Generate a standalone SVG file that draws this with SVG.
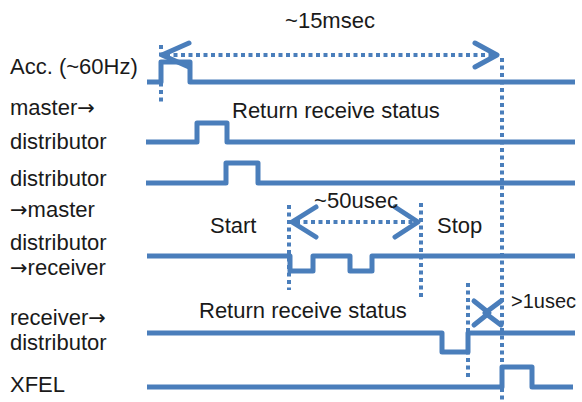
<svg xmlns="http://www.w3.org/2000/svg" width="582" height="402" viewBox="0 0 582 402">
<style>
text{font-family:"Liberation Sans",Arial,sans-serif;font-size:22px;fill:#1a1a1a}
.ar{font-family:"DejaVu Sans",sans-serif;font-size:21px}
.w{fill:none;stroke:#4a7ebb;stroke-width:5;stroke-linejoin:round}
.d{fill:none;stroke:#4a7ebb;stroke-width:4;stroke-dasharray:4 3.5}
.h{fill:none;stroke:#4a7ebb;stroke-width:5;stroke-linecap:round;stroke-linejoin:round}
</style>
<rect width="582" height="402" fill="#ffffff"/>
<g id="acc">
<text x="10" y="74">Acc. (~60Hz)</text>
<path class="w" d="M147,82 H161 V62 H190 V82 H575"/>
</g>
<g id="master-distributor">
<text x="10" y="115">master<tspan class="ar">→</tspan></text>
<text x="10" y="149">distributor</text>
<path class="w" d="M146,142 H197 V123 H227 V142 H575"/>
</g>
<g id="distributor-master">
<text x="10" y="186">distributor</text>
<text x="10" y="217"><tspan class="ar">→</tspan>master</text>
<path class="w" d="M146,183 H226 V163 H258 V183 H575"/>
</g>
<g id="distributor-receiver">
<text x="10" y="250">distributor</text>
<text x="10" y="275"><tspan class="ar">→</tspan>receiver</text>
<path class="w" d="M147,256 H290 V271 H313 V256 H350 V271 H372 V256 H575"/>
</g>
<g id="receiver-distributor">
<text x="10" y="325">receiver<tspan class="ar">→</tspan></text>
<text x="10" y="350">distributor</text>
<path class="w" d="M147,333 H442 V352 H468 V333 H575"/>
</g>
<g id="xfel">
<text x="10" y="392">XFEL</text>
<path class="w" d="M147,387 H502 V367 H532 V387 H573"/>
</g>
<g id="connectors">
<path class="d" d="M161,45 V102"/>
<path class="d" d="M166,55 H493"/>
<path class="d" d="M502,58 V402"/>
<path class="d" d="M289,205 V290"/>
<path class="d" d="M421,203 V298"/>
<path class="d" d="M296,222 H414"/>
<path class="d" d="M468,283 V380"/>
<path class="h" d="M189,43 L162,55 L189,67"/>
<path class="h" d="M475,43 L497,55 L475,67"/>
<path class="h" d="M316,207 L292,222 L316,237"/>
<path class="h" d="M395,207 L418,222 L395,237"/>
<path class="h" d="M474,301 L489,313 L474,325"/>
<path class="h" d="M501,301 L485,313 L501,325"/>
</g>
<g id="annotations">
<text x="330" y="28" text-anchor="middle">~15msec</text>
<text x="232" y="118">Return receive status</text>
<text x="356" y="208" text-anchor="middle">~50usec</text>
<text x="210" y="233">Start</text>
<text x="437" y="233">Stop</text>
<text x="199" y="318">Return receive status</text>
<text x="511" y="308" style="font-size:20px">&gt;1usec</text>
</g>
</svg>
